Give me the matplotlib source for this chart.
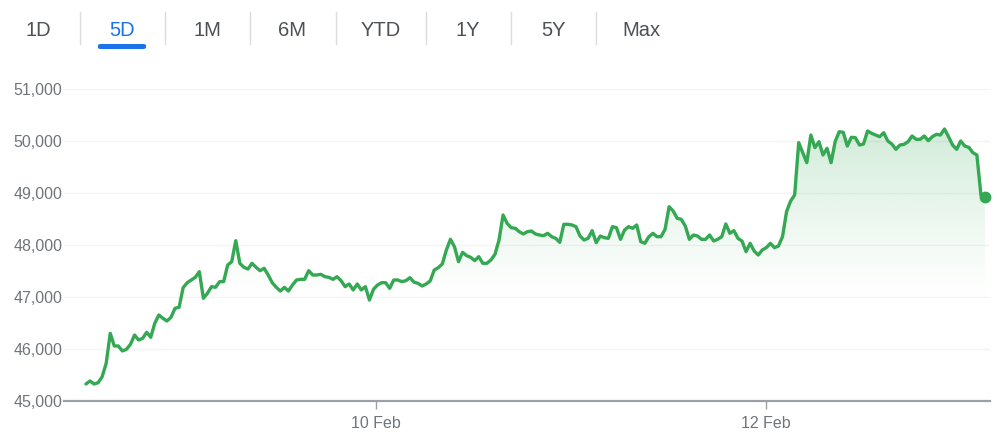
import numpy as np
import pandas as pd
import matplotlib
matplotlib.use("Agg")
import matplotlib.pyplot as plt
import matplotlib.dates as mdates
from matplotlib.patches import FancyBboxPatch
from matplotlib.lines import Line2D

plt.rcParams['font.family'] = ['Liberation Sans', 'DejaVu Sans']

# ---------------- data ----------------
tab_labels = ["1D", "5D", "1M", "6M", "YTD", "1Y", "5Y", "Max"]
active_tab = "5D"

start_time = "2021-02-08 12:18"
end_time = "2021-02-13 02:57"

price = [
    45327, 45385, 45327, 45352, 45467, 45725, 46302, 46058, 46058, 45962,
    45994, 46090, 46269, 46173, 46206, 46321, 46225, 46494, 46654, 46590,
    46538, 46609, 46783, 46801, 47179, 47275, 47327, 47378, 47487, 46975,
    47071, 47199, 47186, 47295, 47295, 47615, 47679, 48083, 47648, 47571,
    47538, 47648, 47571, 47506,
    47552, 47423, 47275, 47186, 47115, 47186, 47115, 47231, 47327, 47340,
    47340, 47506, 47423, 47423, 47436, 47391, 47378, 47340, 47391, 47314,
    47199, 47250, 47135, 47250, 47135, 47199, 46942, 47148, 47231, 47275,
    47275, 47167, 47327, 47327, 47295, 47314, 47372, 47285, 47263, 47212,
    47250, 47308,
    47519, 47564, 47635, 47904, 48109, 47968, 47679, 47859, 47795, 47763,
    47699, 47776, 47648, 47648, 47712, 47821, 48096, 48577, 48417, 48333,
    48321, 48256, 48212, 48256, 48269, 48212, 48192, 48179, 48225, 48160,
    48128, 48051, 48398, 48398, 48385, 48353, 48173, 48096, 48128, 48276,
    48045,
    48173, 48141, 48128, 48353, 48333, 48109, 48288, 48353, 48321, 48385,
    48064, 48032, 48160, 48225, 48160, 48160, 48301, 48737, 48654, 48513,
    48494, 48365, 48109, 48192, 48173, 48109, 48109, 48192, 48077, 48109,
    48160, 48404, 48225, 48276, 48128, 48077, 47872, 48032, 47885, 47808,
    47904, 47949,
    48032, 47949, 47981, 48160, 48641, 48846, 48962, 49968, 49776, 49583,
    50115, 49872, 49987, 49731, 49859, 49583, 49987, 50179, 50167, 49904,
    50071, 50064, 49923, 49942, 50192, 50148, 50115, 50083, 50160, 50000,
    49942, 49840, 49923, 49936, 49987, 50096, 50032, 50032, 50096, 50006,
    50083, 50128, 50115, 50231, 50083, 49923, 49840, 50000, 49904, 49878,
    49776, 49731, 48960, 48920,
]

y_ticks = [45000, 46000, 47000, 48000, 49000, 50000, 51000]
x_tick_days = [10, 12]
x_view = ("2021-02-08 09:36", "2021-02-13 03:34")

# ---------------- style ----------------
GREEN = "#34a853"
GRID = "#f3f3f3"
AXIS = "#9aa0a6"
LABEL = "#70757a"
TAB = "#4d5156"
BLUE = "#1a73e8"

W, H = 997, 438
fig = plt.figure(figsize=(W / 100, H / 100), dpi=100)
fig.patch.set_facecolor("white")


def fx(px):
    return px / W


def fy(py):
    return 1 - py / H


ax = fig.add_axes([fx(64), fy(401), fx(990) - fx(64), fy(89) - fy(401)])

times = pd.date_range(start_time, end_time, periods=len(price))
x = mdates.date2num(times.to_pydatetime())
y = np.array(price, dtype=float)

x0 = mdates.date2num(pd.Timestamp(x_view[0]).to_pydatetime())
x1 = mdates.date2num(pd.Timestamp(x_view[1]).to_pydatetime())
ymin, ymax = y_ticks[0], y_ticks[-1]

# gradient fill under the line
poly = ax.fill_between(x, y, ymin, facecolor="none", edgecolor="none")
n = 256
levels = np.linspace(ymin, ymax, n)
alpha = np.clip((levels - 46900) / (50200 - 46900), 0, 1) ** 1.2 * 0.22
rgb = matplotlib.colors.to_rgb(GREEN)
grad = np.zeros((n, 1, 4))
grad[:, 0, 0] = rgb[0]
grad[:, 0, 1] = rgb[1]
grad[:, 0, 2] = rgb[2]
grad[:, 0, 3] = alpha
im = ax.imshow(grad, extent=[x[0], x[-1], ymin, ymax], aspect="auto",
               origin="lower", zorder=1, interpolation="bilinear")
im.set_clip_path(poly.get_paths()[0], transform=ax.transData)

# grid
for t in y_ticks[1:]:
    ax.axhline(t, color=GRID, lw=1.0, zorder=0.5)

ax.plot(x, y, color=GREEN, lw=2.4, solid_joinstyle="round",
        solid_capstyle="round", zorder=3, clip_on=False)
ax.plot([x[-1]], [y[-1]], "o", color=GREEN, ms=7.5, zorder=4, clip_on=False)

ax.set_xlim(x0, x1)
ax.set_ylim(ymin, ymax)

for s in ["top", "right", "left"]:
    ax.spines[s].set_visible(False)
ax.spines["bottom"].set_color(AXIS)
ax.spines["bottom"].set_linewidth(1.6)

ax.set_yticks(y_ticks)
ax.set_yticklabels([f"{v:,}" for v in y_ticks])
ax.tick_params(axis="y", length=0, pad=1, labelsize=11.5, labelcolor=LABEL)

ax.xaxis.set_major_locator(mdates.DayLocator(bymonthday=x_tick_days))
ax.xaxis.set_major_formatter(mdates.DateFormatter("%-d %b"))
ax.tick_params(axis="x", length=6, width=1, color=AXIS, pad=5,
               labelsize=11.5, labelcolor=LABEL)
ax.set_facecolor("none")

# tab bar
tab_x = [38, 122, 207, 292, 381, 468, 553, 641]
sep_x = [80, 165, 250, 336, 426, 511, 596]
for lbl, px in zip(tab_labels, tab_x):
    fig.text(fx(px), fy(28), lbl, ha="center", va="center_baseline",
             fontsize=14.5, color=BLUE if lbl == active_tab else TAB)
for px in sep_x:
    fig.add_artist(Line2D([fx(px), fx(px)], [fy(12), fy(44)], color="#dadce0",
                          lw=1.0, transform=fig.transFigure))
ia = tab_labels.index(active_tab)
bar = FancyBboxPatch((fx(tab_x[ia] - 24), fy(49)), fx(48), fy(44) - fy(49),
                     boxstyle="round,pad=0,rounding_size=0.003",
                     transform=fig.transFigure, facecolor=BLUE, edgecolor="none")
fig.add_artist(bar)

fig.savefig("out.png", dpi=100, facecolor="white")
